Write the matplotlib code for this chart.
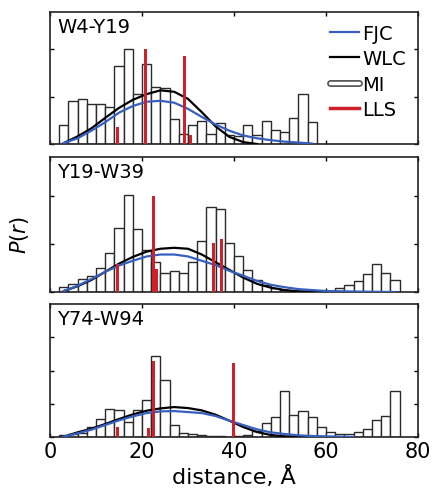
import numpy as np
import matplotlib
matplotlib.use("Agg")
import matplotlib.pyplot as plt
from matplotlib.lines import Line2D
import matplotlib.patheffects as pe

plt.rcParams["font.family"] = ["DejaVu Sans"]
plt.rcParams["mathtext.fontset"] = "dejavusans"

# ── data ──────────────────────────────────────────────────────────────────────
BIN_WIDTH = 2
PANELS = ["W4-Y19", "Y19-W39", "Y74-W94"]

# MI histograms (left bin edge starts at 2 Å, 2 Å bins)
mi_w4_y19 = [0.40, 0.91, 0.94, 0.85, 0.85, 0.77, 1.65, 2.00, 1.05, 1.69,
             1.21, 1.18, 0.52, 0.22, 0.40, 0.49, 0.22, 0.44, 0.20, 0.17,
             0.41, 0.20, 0.48, 0.29, 0.25, 0.54, 1.05, 0.47]
mi_y19_w39 = [0.10, 0.17, 0.28, 0.33, 0.49, 0.82, 1.34, 2.02, 1.31, 0.88,
              0.63, 0.39, 0.44, 0.40, 0.63, 1.06, 1.76, 1.72, 1.03, 0.75,
              0.45, 0.25, 0.14, 0.08, 0.04, 0.03, 0.02, 0.02, 0.01, 0.01,
              0.08, 0.14, 0.23, 0.37, 0.59, 0.39, 0.24]
mi_y74_w94 = [0.06, 0.08, 0.13, 0.30, 0.55, 0.84, 0.81, 0.45, 0.80, 1.11,
              2.45, 1.71, 0.35, 0.13, 0.09, 0.05, 0.03, 0.02, 0.01, 0.02,
              0.05, 0.17, 0.41, 0.59, 1.37, 0.66, 0.79, 0.61, 0.31, 0.15,
              0.10, 0.09, 0.14, 0.25, 0.51, 0.62, 1.37]

# LLS sticks
lls_r_w4_y19 = [14.7, 20.8, 29.2, 30.5]
lls_h_w4_y19 = [0.36, 2.00, 1.86, 0.19]
lls_r_y19_w39 = [14.6, 22.5, 23.1, 35.6, 37.3]
lls_h_y19_w39 = [0.58, 1.99, 0.47, 1.01, 1.11]
lls_r_y74_w94 = [14.6, 21.4, 22.6, 39.9]
lls_h_y74_w94 = [0.31, 0.27, 2.28, 2.23]

# WLC model curves
wlc_r_w4_y19 = [3, 6, 9, 12, 15, 18, 21, 24, 27, 30, 33, 36, 39, 42, 45]
wlc_w4_y19 = [0.02, 0.16, 0.33, 0.55, 0.76, 0.93, 1.05, 1.13, 1.10, 0.95,
              0.67, 0.37, 0.15, 0.04, 0.00]
wlc_r_y19_w39 = [3, 6, 9, 12, 15, 18, 21, 24, 27, 30, 33, 36, 39, 42, 45,
                 48, 51, 54, 57, 60, 63]
wlc_y19_w39 = [0.02, 0.12, 0.25, 0.42, 0.59, 0.73, 0.84, 0.90, 0.92, 0.90,
               0.78, 0.62, 0.46, 0.30, 0.17, 0.09, 0.04, 0.015, 0.005, 0.0, 0.0]
wlc_r_y74_w94 = [3, 6, 9, 12, 15, 18, 21, 24, 27, 30, 33, 36, 39, 42, 45,
                 48, 51, 54, 57]
wlc_y74_w94 = [0.01, 0.14, 0.25, 0.39, 0.54, 0.68, 0.79, 0.86, 0.90, 0.87,
               0.80, 0.67, 0.49, 0.30, 0.15, 0.06, 0.02, 0.005, 0.0]

# FJC model curves
fjc_r_w4_y19 = [3, 6, 9, 12, 15, 18, 21, 24, 27, 30, 33, 36, 39, 42, 45,
                48, 51, 54, 57]
fjc_w4_y19 = [0.02, 0.12, 0.28, 0.46, 0.66, 0.80, 0.89, 0.91, 0.87, 0.74,
              0.57, 0.41, 0.28, 0.18, 0.12, 0.08, 0.05, 0.03, 0.01]
fjc_r_y19_w39 = [3, 6, 9, 12, 15, 18, 21, 24, 27, 30, 33, 36, 39, 42, 45,
                 48, 51, 54, 57, 60, 63, 66, 70, 75]
fjc_y19_w39 = [0.02, 0.13, 0.27, 0.42, 0.55, 0.65, 0.74, 0.78, 0.78, 0.74,
               0.65, 0.56, 0.44, 0.34, 0.23, 0.15, 0.10, 0.06, 0.04, 0.02,
               0.015, 0.01, 0.005, 0.0]
fjc_r_y74_w94 = [3, 6, 9, 12, 15, 18, 21, 24, 27, 30, 33, 36, 39, 42, 45,
                 48, 51, 54, 57, 60, 63, 66]
fjc_y74_w94 = [0.01, 0.11, 0.22, 0.36, 0.50, 0.62, 0.72, 0.77, 0.78, 0.75,
               0.72, 0.63, 0.49, 0.36, 0.23, 0.14, 0.09, 0.05, 0.03, 0.02,
               0.01, 0.0]

X_TICKS = [0, 20, 40, 60, 80]
Y_LIMS = [2.78, 2.81, 4.0]
Y_TICKS = [[0, 1, 2], [0, 1, 2], [0, 1, 2, 3]]

BLUE = "#3560c0"
RED = "#d0202a"
EDGE = "#2a2a2a"

mi_all = [mi_w4_y19, mi_y19_w39, mi_y74_w94]
lls_all = [(lls_r_w4_y19, lls_h_w4_y19), (lls_r_y19_w39, lls_h_y19_w39),
           (lls_r_y74_w94, lls_h_y74_w94)]
wlc_all = [(wlc_r_w4_y19, wlc_w4_y19), (wlc_r_y19_w39, wlc_y19_w39),
           (wlc_r_y74_w94, wlc_y74_w94)]
fjc_all = [(fjc_r_w4_y19, fjc_w4_y19), (fjc_r_y19_w39, fjc_y19_w39),
           (fjc_r_y74_w94, fjc_y74_w94)]

# ── figure ────────────────────────────────────────────────────────────────────
fig = plt.figure(figsize=(4.4, 5.02), dpi=100)
W, H = 440, 502
rects = [(13, 145), (158, 293), (305, 438)]   # top / bottom in pixels
left, right = 50, 418

axes = []
for i, (top, bot) in enumerate(rects):
    ax = fig.add_axes([left / W, 1 - bot / H, (right - left) / W, (bot - top) / H])
    axes.append(ax)

    mi = mi_all[i]
    edges = np.arange(2, 2 + BIN_WIDTH * len(mi), BIN_WIDTH)
    ax.bar(edges, mi, width=BIN_WIDTH, align="edge", color="white",
           edgecolor=EDGE, linewidth=1.0, zorder=2)

    r, y = wlc_all[i]
    ax.plot(r, y, color="black", lw=1.6, zorder=3)
    r, y = fjc_all[i]
    ax.plot(r, y, color=BLUE, lw=1.6, zorder=3)

    lr, lh = lls_all[i]
    ax.bar(lr, lh, width=0.65, color=RED, linewidth=0, zorder=4)

    ax.set_xlim(0, 80)
    ax.set_ylim(0, Y_LIMS[i])
    ax.set_xticks(X_TICKS)
    ax.set_yticks(Y_TICKS[i])
    ax.set_yticklabels([])
    ax.tick_params(direction="in", top=True, right=True, length=3, width=1,
                   labelsize=15, pad=3)
    if i < 2:
        ax.set_xticklabels([])
    for s in ax.spines.values():
        s.set_linewidth(1.2)
        s.set_color("#222222")
    ax.text(0.02, 0.96, PANELS[i], transform=ax.transAxes, va="top",
            ha="left", fontsize=14)

axes[2].set_xlabel("distance, Å", fontsize=16, labelpad=3)
fig.text(0.045, 0.532, r"$P(r)$", rotation=90, fontsize=15,
         ha="center", va="center")

# legend
mi_handle = Line2D([0], [0], color="white", lw=2.5, solid_capstyle="round",
                   path_effects=[pe.Stroke(linewidth=5, foreground="#555555"),
                                 pe.Normal()])
handles = [Line2D([0], [0], color=BLUE, lw=1.6),
           Line2D([0], [0], color="black", lw=1.6),
           mi_handle,
           Line2D([0], [0], color=RED, lw=2.5)]
axes[0].legend(handles, ["FJC", "WLC", "MI", "LLS"], loc="upper right",
               frameon=False, fontsize=14, handlelength=1.5,
               handletextpad=0.2, labelspacing=0.33, borderaxespad=0.2)

fig.savefig("out.png", dpi=100)
